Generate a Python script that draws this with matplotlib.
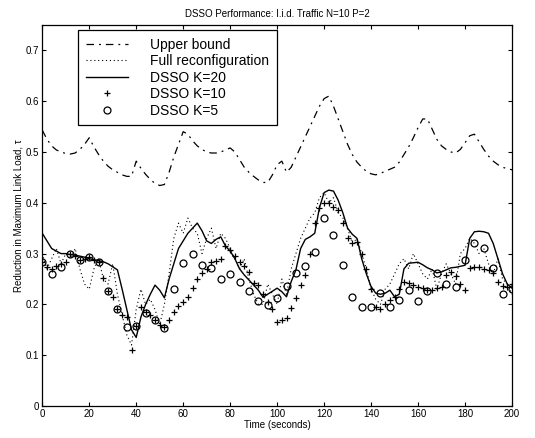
import numpy as np
import matplotlib
matplotlib.use("Agg")
import matplotlib.pyplot as plt

plt.rcParams['font.family'] = ['Liberation Sans', 'DejaVu Sans']

# czas (s) co 2 s dla linii i krzyzykow, co 4 s dla kolek
t2 = np.arange(0, 201, 2)
t4 = np.arange(0, 201, 4)

upper_bound = [
    0.543, 0.525, 0.512, 0.504, 0.500, 0.497, 0.496, 0.498, 0.505, 0.515,
    0.528, 0.510, 0.495, 0.482, 0.472, 0.465, 0.460, 0.455, 0.452, 0.452,
    0.482, 0.468, 0.456, 0.446, 0.438, 0.434, 0.436, 0.460, 0.490, 0.515,
    0.540, 0.535, 0.522, 0.512, 0.505, 0.500, 0.498, 0.498, 0.500, 0.504,
    0.508, 0.500, 0.485, 0.470, 0.460, 0.452, 0.445, 0.440, 0.440, 0.455,
    0.475, 0.482, 0.460, 0.470, 0.490, 0.510, 0.530, 0.550, 0.570, 0.590,
    0.605, 0.610, 0.590, 0.565, 0.540, 0.515, 0.495, 0.480, 0.470, 0.462,
    0.457, 0.455, 0.458, 0.462, 0.466, 0.470, 0.480, 0.495, 0.510, 0.528,
    0.548, 0.565, 0.565, 0.545, 0.525, 0.512, 0.505, 0.500, 0.498, 0.505,
    0.518, 0.532, 0.535, 0.520, 0.505, 0.492, 0.482, 0.475, 0.470, 0.467,
    0.465,
]

full_reconf = [
    0.30, 0.27, 0.29, 0.31, 0.28, 0.30, 0.29, 0.31, 0.27, 0.24,
    0.23, 0.27, 0.29, 0.25, 0.24, 0.28, 0.22, 0.18, 0.14, 0.12,
    0.19, 0.23, 0.20, 0.21, 0.19, 0.16, 0.20, 0.26, 0.33, 0.36,
    0.34, 0.37, 0.35, 0.34, 0.30, 0.33, 0.35, 0.31, 0.34, 0.33,
    0.31, 0.29, 0.27, 0.29, 0.25, 0.22, 0.20, 0.20, 0.24, 0.22,
    0.20, 0.25, 0.22, 0.27, 0.30, 0.33, 0.35, 0.37, 0.38, 0.41,
    0.42, 0.40, 0.41, 0.38, 0.37, 0.35, 0.32, 0.33, 0.30, 0.27,
    0.23, 0.21, 0.20, 0.23, 0.24, 0.26, 0.28, 0.29, 0.27, 0.30,
    0.28, 0.26, 0.25, 0.27, 0.23, 0.26, 0.28, 0.26, 0.24, 0.30,
    0.31, 0.33, 0.32, 0.30, 0.31, 0.28, 0.26, 0.29, 0.25, 0.24,
    0.22,
]

dsso_k20 = [
    0.340, 0.325, 0.310, 0.305, 0.300, 0.300, 0.298, 0.297, 0.295, 0.293,
    0.290, 0.288, 0.286, 0.284, 0.280, 0.274, 0.268, 0.230, 0.190, 0.150,
    0.135, 0.175, 0.200, 0.220, 0.238, 0.228, 0.213, 0.250, 0.280, 0.310,
    0.325, 0.340, 0.350, 0.360, 0.345, 0.325, 0.320, 0.328, 0.333, 0.315,
    0.305, 0.290, 0.270, 0.258, 0.248, 0.238, 0.228, 0.214, 0.220, 0.226,
    0.232, 0.225, 0.215, 0.245, 0.268, 0.310, 0.328, 0.333, 0.340, 0.390,
    0.420, 0.425, 0.423, 0.405, 0.380, 0.350, 0.338, 0.330, 0.290, 0.260,
    0.235, 0.222, 0.220, 0.222, 0.228, 0.215, 0.220, 0.270, 0.281, 0.282,
    0.283, 0.278, 0.272, 0.268, 0.262, 0.264, 0.268, 0.272, 0.273, 0.275,
    0.277, 0.330, 0.343, 0.344, 0.343, 0.340, 0.320, 0.290, 0.260, 0.240,
    0.232,
]

dsso_k10 = [
    0.284, 0.274, 0.270, 0.275, 0.280, 0.284, 0.300, 0.295, 0.287, 0.290,
    0.293, 0.288, 0.284, 0.252, 0.227, 0.215, 0.190, 0.180, 0.175, 0.110,
    0.157, 0.195, 0.185, 0.180, 0.170, 0.160, 0.155, 0.170, 0.185, 0.197,
    0.205, 0.215, 0.232, 0.250, 0.262, 0.270, 0.284, 0.286, 0.290, 0.315,
    0.307, 0.295, 0.284, 0.275, 0.264, 0.242, 0.238, 0.220, 0.205, 0.190,
    0.165, 0.170, 0.173, 0.193, 0.213, 0.238, 0.258, 0.300, 0.360, 0.390,
    0.400, 0.400, 0.392, 0.385, 0.360, 0.330, 0.320, 0.323, 0.300, 0.270,
    0.230, 0.195, 0.190, 0.200, 0.209, 0.215, 0.230, 0.244, 0.243, 0.238,
    0.234, 0.232, 0.228, 0.228, 0.232, 0.234, 0.258, 0.264, 0.256, 0.240,
    0.228, 0.272, 0.274, 0.274, 0.270, 0.268, 0.262, 0.245, 0.236, 0.234,
    0.240,
]

dsso_k5 = [
    0.284, 0.260, 0.274, 0.300, 0.287, 0.293, 0.284, 0.227, 0.190, 0.156,
    0.157, 0.183, 0.170, 0.154, 0.230, 0.281, 0.300, 0.277, 0.272, 0.250,
    0.260, 0.244, 0.226, 0.207, 0.199, 0.213, 0.236, 0.262, 0.276, 0.303,
    0.370, 0.337, 0.278, 0.215, 0.195, 0.195, 0.222, 0.195, 0.209, 0.228,
    0.207, 0.226, 0.262, 0.240, 0.234, 0.287, 0.321, 0.311, 0.272, 0.220,
    0.230,
]

fig = plt.figure(figsize=(5.35, 4.38), dpi=100)
ax = fig.add_axes([0.079, 0.073, 0.878, 0.870])

ax.plot(t2, upper_bound, linestyle=(0, (6, 4, 1.5, 4)), color='black', lw=0.9,
        label="Upper bound")
ax.plot(t2, full_reconf, linestyle=(0, (1, 2.5)), color='black', lw=0.8,
        label="Full reconfiguration")
ax.plot(t2, dsso_k20, '-', color='black', lw=1.0, label="DSSO K=20")
ax.plot(t2, dsso_k10, '+', color='black', ms=5, mew=0.9, label="DSSO K=10")
ax.plot(t4, dsso_k5, 'o', color='black', mfc='none', ms=5, mew=0.9, label="DSSO K=5")

ax.set_xlim(0, 200)
ax.set_ylim(0, 0.75)
ax.set_xticks(np.arange(0, 201, 20))
ax.set_yticks([0, 0.1, 0.2, 0.3, 0.4, 0.5, 0.6, 0.7])
ax.set_yticklabels(["0", "0.1", "0.2", "0.3", "0.4", "0.5", "0.6", "0.7"])
ax.tick_params(direction='in', top=True, right=True, labelsize=7, length=3, pad=2)
for s in ax.spines.values():
    s.set_linewidth(0.9)

ax.set_title("DSSO Performance: I.i.d. Traffic N=10 P=2", fontsize=7, pad=6)
ax.set_xlabel("Time (seconds)", fontsize=7, labelpad=1)
ax.set_ylabel("Reduction in Maximum Link Load, τ", fontsize=7, labelpad=2)

leg = ax.legend(loc='upper left', bbox_to_anchor=(0.077, 0.987), fontsize=10,
                frameon=True, fancybox=False, framealpha=1, edgecolor='black',
                borderaxespad=0, handlelength=3.0, labelspacing=0.18,
                handletextpad=1.6, borderpad=0.55)
leg.get_frame().set_linewidth(0.9)

fig.savefig("out.png", dpi=100)
